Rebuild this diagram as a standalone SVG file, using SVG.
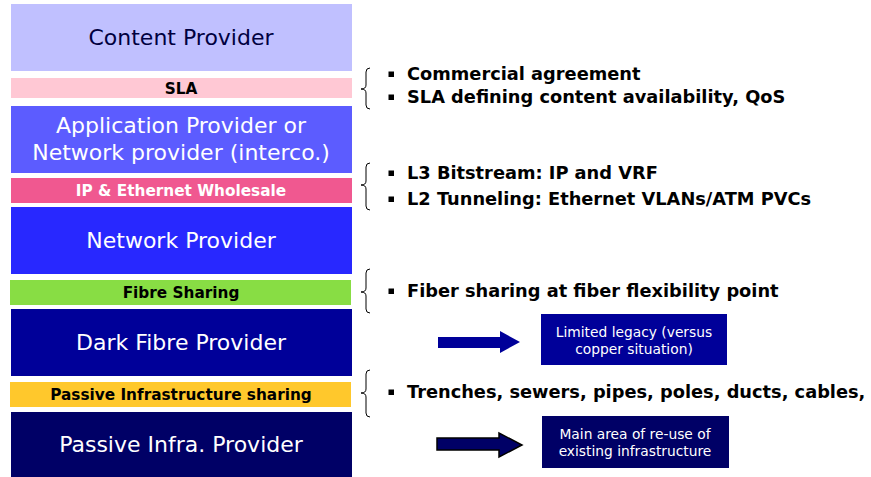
<svg xmlns="http://www.w3.org/2000/svg" width="871" height="477" viewBox="0 0 871 477">
<style>
text{font-family:"DejaVu Sans","Liberation Sans",sans-serif}
.big{font-size:22px;text-anchor:middle;fill:#fff}
.band{font-size:15.3px;font-weight:bold;text-anchor:middle;fill:#000}
.bul{font-size:17.8px;font-weight:bold;fill:#000}
.note{font-size:13.8px;text-anchor:middle;fill:#fff}
.brace{fill:none;stroke:#000;stroke-width:1}
</style>
<rect width="871" height="477" fill="#fff"/>
<g id="content-provider"><rect x="11" y="4" width="341" height="67" fill="#C0C0FF"/><text class="big" x="181" y="45" style="fill:#000040">Content Provider</text></g>
<g id="sla"><rect x="11" y="78" width="341" height="20" fill="#FFC8D4"/><text class="band" x="181" y="94">SLA</text></g>
<g id="application-provider"><rect x="11" y="106" width="341" height="67" fill="#5C5CFF"/><text class="big" x="181" y="133">Application Provider or</text><text class="big" x="181" y="160">Network provider (interco.)</text></g>
<g id="ip-ethernet"><rect x="11" y="178" width="341" height="25" fill="#F05890"/><text class="band" x="181" y="196" style="fill:#fff">IP &amp; Ethernet Wholesale</text></g>
<g id="network-provider"><rect x="11" y="207" width="341" height="67" fill="#2828FF"/><text class="big" x="181" y="248">Network Provider</text></g>
<g id="fibre-sharing"><rect x="10" y="280" width="341" height="25" fill="#88DD44"/><text class="band" x="181" y="298">Fibre Sharing</text></g>
<g id="dark-fibre-provider"><rect x="11" y="309" width="341" height="67" fill="#000099"/><text class="big" x="181" y="350">Dark Fibre Provider</text></g>
<g id="passive-sharing"><rect x="10" y="382" width="341" height="25" fill="#FFC82C"/><text class="band" x="181" y="400">Passive Infrastructure sharing</text></g>
<g id="passive-infra-provider"><rect x="11" y="412" width="341" height="65" fill="#000066"/><text class="big" x="181" y="452">Passive Infra. Provider</text></g>

<g id="notes1">
<path class="brace" d="M370,68 Q366,68 366,72 L366,85 Q366,89 361,89 Q366,89 366,93 L366,105 Q366,109 370,109"/>
<rect x="388.5" y="71.5" width="5.5" height="5.5"/><text class="bul" x="407" y="80">Commercial agreement</text>
<rect x="388.5" y="94.5" width="5.5" height="5.5"/><text class="bul" x="407" y="103">SLA defining content availability, QoS</text>
</g>
<g id="notes2">
<path class="brace" d="M370,163 Q366,163 366,167 L366,181 Q366,185 361,185 Q366,185 366,189 L366,206 Q366,210 370,210"/>
<rect x="388.5" y="170.5" width="5.5" height="5.5"/><text class="bul" x="407" y="179">L3 Bitstream: IP and VRF</text>
<rect x="388.5" y="196.5" width="5.5" height="5.5"/><text class="bul" x="407" y="205">L2 Tunneling: Ethernet VLANs/ATM PVCs</text>
</g>
<g id="notes3">
<path class="brace" d="M370,269 Q366,269 366,273 L366,288 Q366,292 361,292 Q366,292 366,296 L366,309 Q366,313 370,313"/>
<rect x="388.5" y="288.5" width="5.5" height="5.5"/><text class="bul" x="407" y="297">Fiber sharing at fiber flexibility point</text>
</g>
<g id="notes4">
<path class="brace" d="M370,370 Q366,370 366,374 L366,389 Q366,393 361,393 Q366,393 366,397 L366,413 Q366,417 370,417"/>
<rect x="388.5" y="389.5" width="5.5" height="5.5"/><text class="bul" x="407" y="398">Trenches, sewers, pipes, poles, ducts, cables,</text>
</g>

<g id="connectors">
<polygon points="438,337 500,337 500,331 520,342 500,353 500,348 438,348" fill="#000099"/>
<polygon points="437,438 499,438 499,433 522,445 499,457 499,450 437,450" fill="#000066" stroke="#000" stroke-width="1.5"/>
</g>
<g id="legacy-box"><rect x="541" y="314" width="186" height="51" fill="#000099"/><text class="note" x="634" y="337">Limited legacy (versus</text><text class="note" x="634" y="354">copper situation)</text></g>
<g id="reuse-box"><rect x="542" y="416" width="187" height="52" fill="#000066"/><text class="note" x="635" y="439">Main area of re-use of</text><text class="note" x="635" y="456">existing infrastructure</text></g>
</svg>
